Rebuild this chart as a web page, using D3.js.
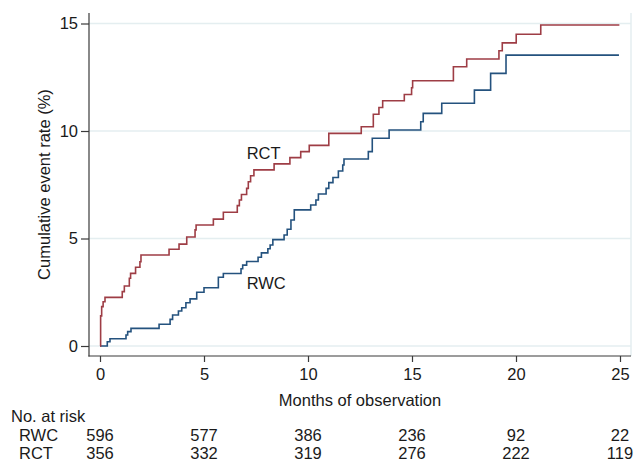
<!DOCTYPE html>
<html>
<head>
<meta charset="utf-8">
<script src="https://cdn.jsdelivr.net/npm/d3@7"></script>
<style>
  body { margin: 0; background: white; }
  text { font-family: "Liberation Sans", Arial, sans-serif; fill: #1a1a1a; }
</style>
</head>
<body>
<div id="chart"></div>
<script>
// step points [months, cumulative %]
const rctSteps = [[0, 0], [0.03, 1.4], [0.08, 1.83], [0.15, 2.06], [0.24, 2.26],
    [1.07, 2.53], [1.17, 2.79], [1.41, 3.15], [1.47, 3.38], [1.71, 3.66], [1.92, 3.92], [1.97, 4.23],
    [3.32, 4.5], [3.8, 4.74], [4.17, 5.07], [4.57, 5.4], [4.62, 5.63], [5.45, 5.9], [5.93, 6.22],
    [6.6, 6.53], [6.7, 6.79], [6.8, 7.05], [7.05, 7.33], [7.13, 7.64], [7.24, 7.92], [7.4, 8.19],
    [8.37, 8.47], [9.13, 8.76], [9.65, 9.04], [10.06, 9.33], [11.0, 9.89], [12.56, 10.2],
    [13.14, 10.78], [13.41, 11.09], [13.59, 11.41], [14.63, 11.7], [14.98, 12.01], [15.03, 12.34],
    [16.99, 12.99], [17.63, 13.35], [19.18, 13.73], [19.34, 14.1], [20.01, 14.5], [21.19, 14.93],
    [24.97, 14.93]]
const rwcSteps = [[0, 0], [0.35, 0.2], [0.48, 0.34], [1.25, 0.51], [1.33, 0.67], [1.49, 0.82],
    [2.84, 1.01], [3.37, 1.24], [3.49, 1.44], [3.77, 1.63], [3.93, 1.78], [4.13, 2.01], [4.33, 2.19],
    [4.65, 2.5], [5.0, 2.71], [5.69, 3.2], [5.93, 3.37], [6.78, 3.59], [6.86, 3.76], [7.05, 3.93],
    [7.6, 4.13], [7.76, 4.33], [8.07, 4.52], [8.18, 4.7], [8.31, 4.95], [8.85, 5.16], [9.0, 5.43],
    [9.18, 5.86], [9.34, 6.33], [10.13, 6.56], [10.38, 6.79], [10.5, 7.07], [10.87, 7.33],
    [11.0, 7.6], [11.2, 7.84], [11.46, 8.14], [11.67, 8.42], [11.73, 8.7], [12.9, 9.04],
    [13.09, 9.66], [13.9, 10.05], [15.42, 10.43], [15.54, 10.82], [16.43, 11.29], [18.0, 11.9],
    [18.78, 12.68], [19.52, 13.53], [24.95, 13.53]]

const xTicks = [0, 5, 10, 15, 20, 25]
const yTicks = [0, 5, 10, 15]
const riskTimes = [0, 5, 10, 15, 20, 25]
const rwcRisk = [596, 577, 386, 236, 92, 22]
const rctRisk = [356, 332, 319, 276, 222, 119]
const curveLabels = [{ name: "RCT", t: 7.05, v: 8.98 }, { name: "RWC", t: 7.05, v: 2.93 }]

var width = 635, height = 461,
    plot = { left: 89, right: 631, top: 13, bottom: 356 },
    fontSize = 16.5,
    axisColor = "#3a3a3a", gridColor = "#e4eef0";

var x = d3.scaleLinear().domain([0, 25]).range([100, 620]);
var y = d3.scaleLinear().domain([0, 15]).range([346, 23.5]);

var svg = d3.select("#chart").append("svg")
    .attr("width", width)
    .attr("height", height);

// grid lines
svg.append("g").selectAll("line")
    .data(yTicks)
    .enter().append("line")
    .attr("x1", plot.left).attr("x2", plot.right)
    .attr("y1", d => y(d)).attr("y2", d => y(d))
    .attr("stroke", gridColor)
    .attr("stroke-width", 1.5);

// plot region right border
svg.append("line")
    .attr("x1", plot.right).attr("x2", plot.right)
    .attr("y1", plot.top).attr("y2", plot.bottom)
    .attr("stroke", gridColor)
    .attr("stroke-width", 1.5);

// curves
var line = d3.line()
    .x(d => x(d[0]))
    .y(d => y(d[1]))
    .curve(d3.curveStepAfter);

svg.append("path")
    .datum(rwcSteps)
    .attr("d", line)
    .attr("fill", "none")
    .attr("stroke", "#24527e")
    .attr("stroke-width", 1.6);

svg.append("path")
    .datum(rctSteps)
    .attr("d", line)
    .attr("fill", "none")
    .attr("stroke", "#9e3d45")
    .attr("stroke-width", 1.6);

svg.selectAll(".curve-label")
    .data(curveLabels)
    .enter().append("text")
    .attr("class", "curve-label")
    .attr("x", d => x(d.t))
    .attr("y", d => y(d.v))
    .attr("dy", "0.36em")
    .style("font-size", fontSize + "px")
    .text(d => d.name);

// Y axis
var yAxis = d3.axisLeft(y).tickValues(yTicks).tickSize(8).tickPadding(3).tickFormat(d3.format("d"));
svg.append("g")
    .attr("transform", `translate(${plot.left},0)`)
    .call(yAxis)
    .call(g => g.select(".domain").remove())
    .call(g => g.selectAll(".tick line").attr("stroke", axisColor).attr("stroke-width", 1.2))
    .call(g => g.selectAll(".tick text").style("font-size", fontSize + "px").attr("fill", "#1a1a1a"));

svg.append("line")
    .attr("x1", plot.left).attr("x2", plot.left)
    .attr("y1", plot.top).attr("y2", plot.bottom + 0.6)
    .attr("stroke", axisColor)
    .attr("stroke-width", 1.2);

// X axis
var xAxis = d3.axisBottom(x).tickValues(xTicks).tickSize(6).tickPadding(6).tickFormat(d3.format("d"));
svg.append("g")
    .attr("transform", `translate(0,${plot.bottom})`)
    .call(xAxis)
    .call(g => g.select(".domain").remove())
    .call(g => g.selectAll(".tick line").attr("stroke", axisColor).attr("stroke-width", 1.2))
    .call(g => g.selectAll(".tick text").style("font-size", fontSize + "px").attr("fill", "#1a1a1a"));

svg.append("line")
    .attr("x1", plot.left - 0.6).attr("x2", plot.right)
    .attr("y1", plot.bottom).attr("y2", plot.bottom)
    .attr("stroke", axisColor)
    .attr("stroke-width", 1.2);

// axis titles
svg.append("text")
    .attr("transform", `translate(50,${(plot.top + plot.bottom) / 2}) rotate(-90)`)
    .attr("text-anchor", "middle")
    .style("font-size", fontSize + "px")
    .text("Cumulative event rate (%)");

svg.append("text")
    .attr("x", (plot.left + plot.right) / 2)
    .attr("y", 406)
    .attr("text-anchor", "middle")
    .style("font-size", fontSize + "px")
    .text("Months of observation");

// number at risk table
svg.append("text")
    .attr("x", 11)
    .attr("y", 422)
    .style("font-size", fontSize + "px")
    .text("No. at risk");

var riskRows = [{ name: "RWC", values: rwcRisk, y: 441 }, { name: "RCT", values: rctRisk, y: 459 }];
riskRows.forEach(row => {
    svg.append("text")
        .attr("x", 19)
        .attr("y", row.y)
        .style("font-size", fontSize + "px")
        .text(row.name);
    svg.append("g").selectAll("text")
        .data(row.values)
        .enter().append("text")
        .attr("x", (d, i) => x(riskTimes[i]))
        .attr("y", row.y)
        .attr("text-anchor", "middle")
        .style("font-size", fontSize + "px")
        .text(d => d);
});
</script>
</body>
</html>
